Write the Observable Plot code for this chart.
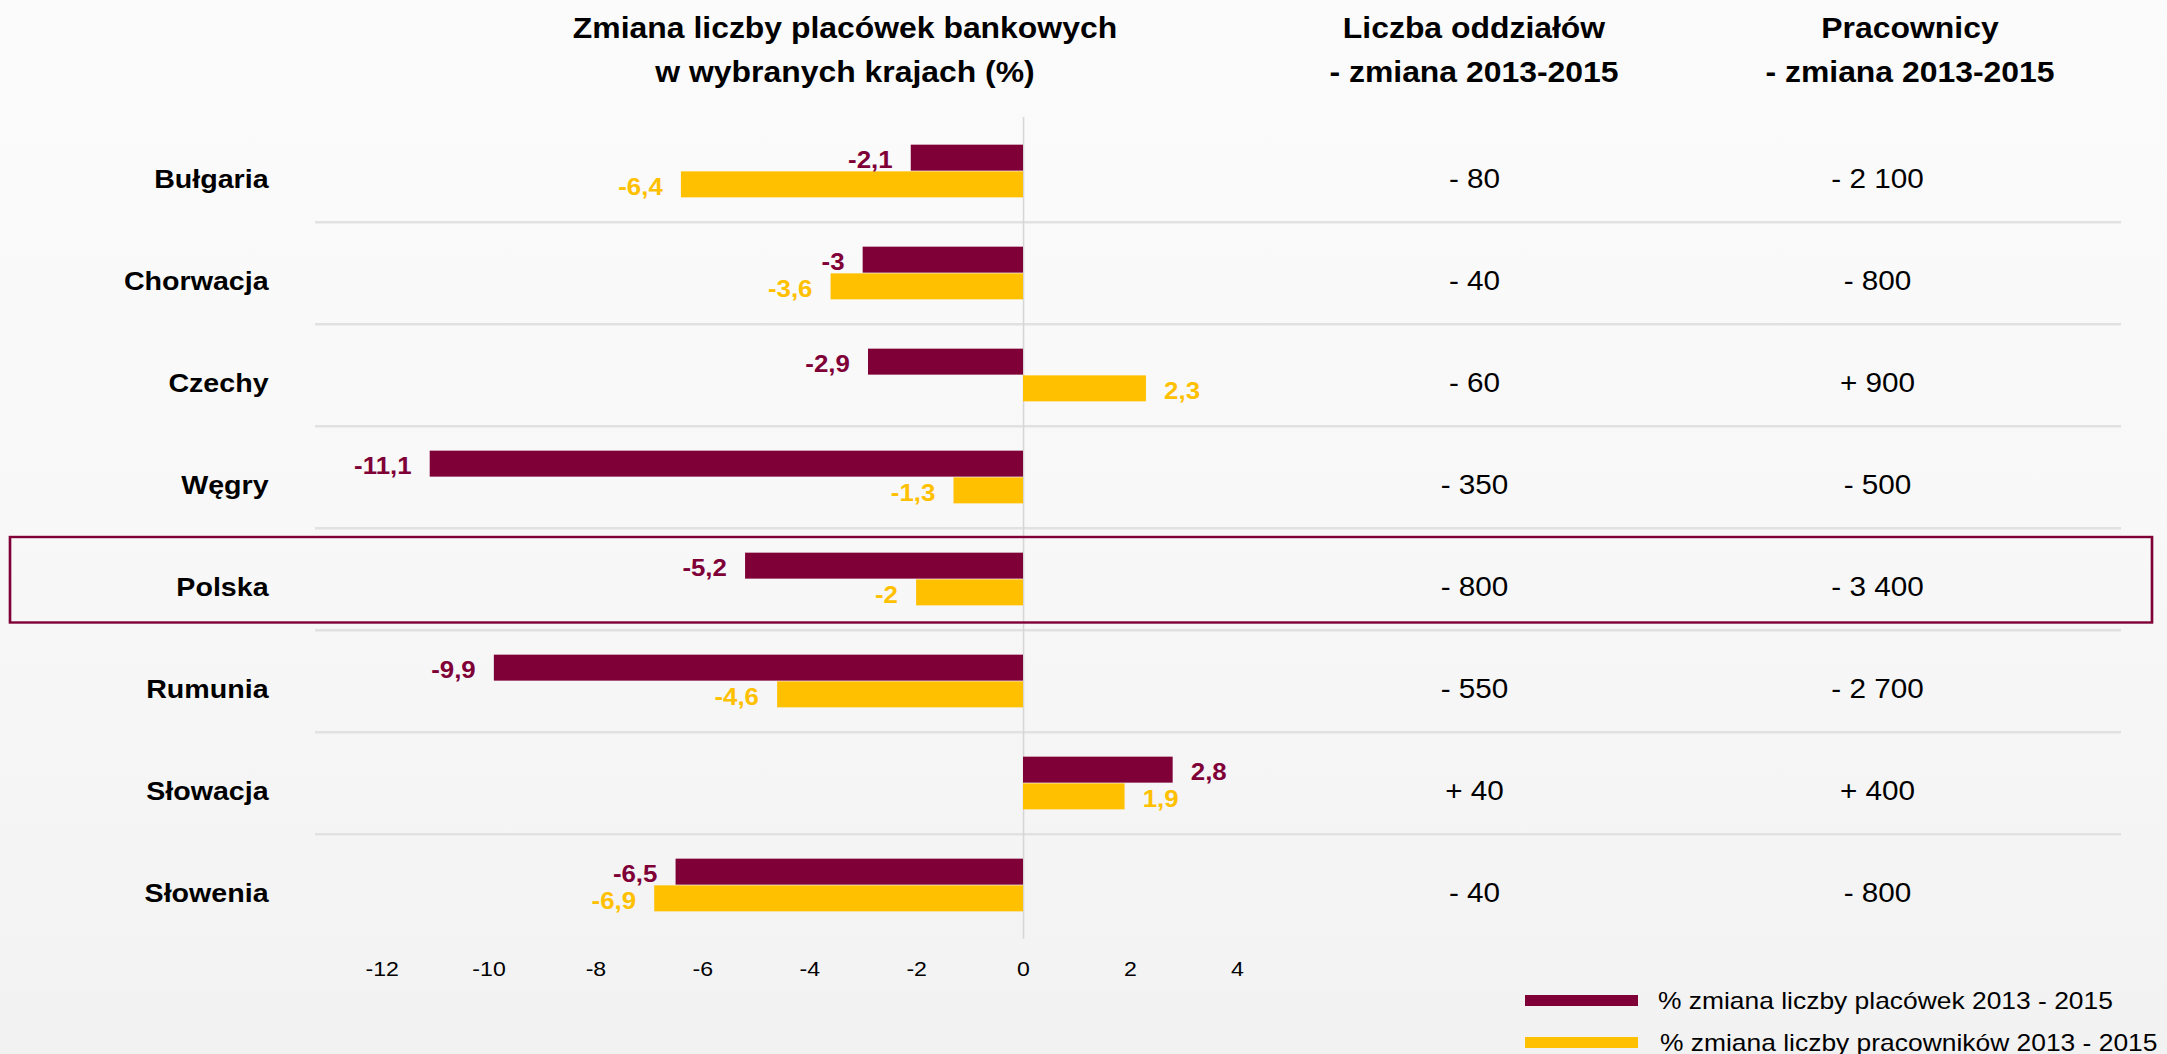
<!DOCTYPE html>
<html>
<head>
<meta charset="utf-8">
<script src="https://cdn.jsdelivr.net/npm/d3@7"></script>
<script src="https://cdn.jsdelivr.net/npm/@observablehq/plot@0.6"></script>
<style>
  html, body { margin: 0; padding: 0; }
  body {
    width: 2167px; height: 1054px; overflow: hidden; position: relative;
    background: linear-gradient(180deg, #fbfbfb 0%, #f8f8f8 50%, #f2f2f2 100%);
    font-family: "Liberation Sans", Arial, sans-serif;
  }
  #chart { position: absolute; left: 0; top: 0; }
  .hdr {
    position: absolute; white-space: nowrap; font-weight: bold; font-size: 29px;
    line-height: 29px; color: #000; transform: translateX(-50%) scaleX(1.1);
    transform-origin: 50% 50%;
  }
  .sw { position: absolute; width: 113px; }
  .lg {
    position: absolute; white-space: nowrap; font-size: 24px; line-height: 24px;
    color: #000; transform: scaleX(1.1); transform-origin: 0 50%;
  }
</style>
</head>
<body>
<div id="chart"></div>
<script>
// ---- data ----
const countries = ["Bułgaria", "Chorwacja", "Czechy", "Węgry", "Polska", "Rumunia", "Słowacja", "Słowenia"];
const placowki = [-2.1, -3, -2.9, -11.1, -5.2, -9.9, 2.8, -6.5];
const pracownicy = [-6.4, -3.6, 2.3, -1.3, -2, -4.6, 1.9, -6.9];
const oddzialy = ["- 80", "- 40", "- 60", "- 350", "- 800", "- 550", "+ 40", "- 40"];
const zatrudnieni = ["- 2 100", "- 800", "+ 900", "- 500", "- 3 400", "- 2 700", "+ 400", "- 800"];
const xTicks = [-12, -10, -8, -6, -4, -2, 0, 2, 4];
const seriesNames = ["% zmiana liczby placówek 2013 - 2015", "% zmiana liczby pracowników 2013 - 2015"];
const titleLines = ["Zmiana liczby placówek bankowych", "w wybranych krajach (%)"];
const col1Lines = ["Liczba oddziałów", "- zmiana 2013-2015"];
const col2Lines = ["Pracownicy", "- zmiana 2013-2015"];
const highlighted = ["Polska"];

// ---- style / layout ----
const PURPLE = "#7F0037", YELLOW = "#FFC000";
const W = 2167, H = 1054, S = 1.1, W0 = W / S;
const ZERO_PX = 1023, UNIT_PX = 53.45;           // page px of x=0, px per unit
const toX = px => (px - ZERO_PX) / UNIT_PX;      // page px -> x units (layout only)
const PLOT_L = 315, PLOT_R = 2121;
const TOP = 117, BOTTOM = 938.7;
const BAND = (BOTTOM - TOP) / countries.length;
const BAR = 26.7;

const rows = countries.map((c, i) => ({
  country: c, placowki: placowki[i], pracownicy: pracownicy[i],
  oddzialy: oddzialy[i], zatrudnieni: zatrudnieni[i]
}));
const fmt = v => String(v).replace(".", ",");
const font = "Liberation Sans, Arial, sans-serif";

const labelMarks = (key, color, dy) => [
  Plot.text(rows.filter(d => d[key] < 0), {
    x: key, y: "country", text: d => fmt(d[key]), textAnchor: "end", dx: -17, dy,
    fill: color, fontWeight: "bold", fontSize: 23.5
  }),
  Plot.text(rows.filter(d => d[key] >= 0), {
    x: key, y: "country", text: d => fmt(d[key]), textAnchor: "start", dx: 16, dy,
    fill: color, fontWeight: "bold", fontSize: 23.5
  })
];

const chart = Plot.plot({
  width: W0, height: H,
  marginLeft: PLOT_L / S, marginRight: (W - PLOT_R) / S,
  marginTop: TOP, marginBottom: H - BOTTOM,
  style: { background: "transparent", fontFamily: font, color: "#000", overflow: "visible" },
  x: { domain: [toX(PLOT_L), toX(PLOT_R)] },
  y: { domain: countries, padding: 0 },
  marks: [
    Plot.ruleY(countries.slice(1), { y: d => d, dy: -BAND / 2, stroke: "#e1e1e1", strokeWidth: 2.5 }),
    Plot.ruleX([0], { stroke: "#d6d6d6", strokeWidth: 1.4 }),
    Plot.barX(highlighted, {
      y: d => d, x1: toX(10), x2: toX(2152), fill: "none",
      stroke: PURPLE, strokeWidth: 2.4, insetTop: 9, insetBottom: 7.5
    }),
    Plot.barX(rows, { x: "placowki", y: "country", fill: PURPLE,
      insetTop: BAND / 2 - BAR, insetBottom: BAND / 2 }),
    Plot.barX(rows, { x: "pracownicy", y: "country", fill: YELLOW,
      insetTop: BAND / 2, insetBottom: BAND / 2 - BAR }),
    ...labelMarks("placowki", PURPLE, -BAR / 2 + 2.5),
    ...labelMarks("pracownicy", YELLOW, BAR / 2 + 2.5),
    Plot.text(rows, { x: toX(1474), y: "country", text: "oddzialy", fontSize: 27, dy: 8, fill: "#000" }),
    Plot.text(rows, { x: toX(1877), y: "country", text: "zatrudnieni", fontSize: 27, dy: 8, fill: "#000" }),
    Plot.axisY({ tickSize: 0, tickPadding: (PLOT_L - 268) / S, fontSize: 26, fontWeight: "bold",
      dy: 8, label: null, fill: "#000" }),
    Plot.axisX({ ticks: xTicks, tickSize: 0, tickPadding: 22, fontSize: 21, label: null,
      tickFormat: d => `${d}`, fill: "#000" })
  ]
});
chart.setAttribute("width", W);
chart.setAttribute("height", H);
chart.setAttribute("viewBox", `0 0 ${W0} ${H}`);
chart.setAttribute("preserveAspectRatio", "none");
chart.style.width = W + "px";
chart.style.height = H + "px";
chart.style.maxWidth = "none";
document.getElementById("chart").appendChild(chart);

// ---- headers ----
function header(lines, cx) {
  const tops = [13.8, 57.5];
  lines.forEach((t, i) => {
    const d = document.createElement("div");
    d.className = "hdr";
    d.textContent = t;
    d.style.left = cx + "px";
    d.style.top = tops[i] + "px";
    document.body.appendChild(d);
  });
}
header(titleLines, 844.5);
header(col1Lines, 1474);
header(col2Lines, 1910);

// ---- legend ----
const legendColors = [PURPLE, YELLOW];
const swTops = [995, 1037], txtTops = [988.7, 1030.7], txtLefts = [1658, 1660];
seriesNames.forEach((name, i) => {
  const s = document.createElement("div");
  s.className = "sw";
  s.style.left = "1525px"; s.style.top = swTops[i] + "px";
  s.style.height = "11px"; s.style.background = legendColors[i];
  document.body.appendChild(s);
  const t = document.createElement("div");
  t.className = "lg";
  t.textContent = name;
  t.style.left = txtLefts[i] + "px"; t.style.top = txtTops[i] + "px";
  document.body.appendChild(t);
});
</script>
</body>
</html>
